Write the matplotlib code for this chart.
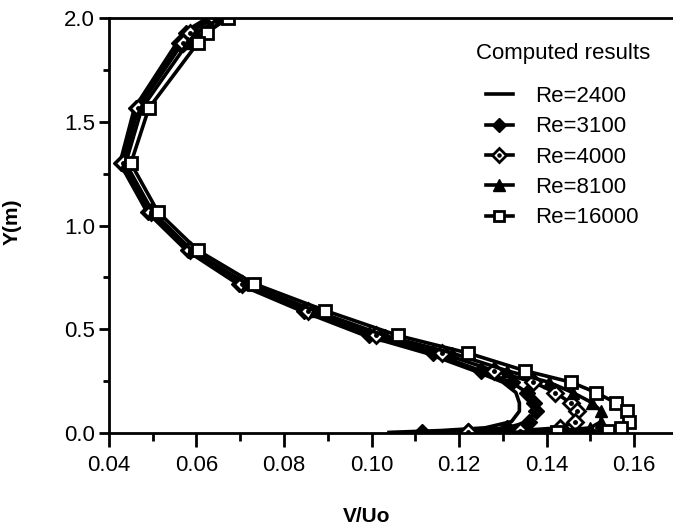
import numpy as np
import matplotlib
matplotlib.use("Agg")
import matplotlib.pyplot as plt
from matplotlib.ticker import MultipleLocator

plt.rcParams['font.family'] = ['Liberation Sans', 'DejaVu Sans']

# y positions of the computed points (m)
y_m = [2.0, 1.93, 1.88, 1.565, 1.30, 1.065, 0.88, 0.72, 0.59, 0.47,
       0.385, 0.30, 0.245, 0.195, 0.145, 0.105, 0.055, 0.025, 0.012, 0.003]

# V/Uo for each Reynolds number
re2400 = [0.0625, 0.0570, 0.0555, 0.0458, 0.0425, 0.0487, 0.0577, 0.0693, 0.0838, 0.0985,
          0.1125, 0.1235, 0.1300, 0.1330, 0.1338, 0.1338, 0.1320, 0.1260, 0.1160, 0.1040]
re3100 = [0.0632, 0.0575, 0.0560, 0.0462, 0.0428, 0.0490, 0.0580, 0.0698, 0.0845, 0.0995,
          0.1140, 0.1250, 0.1320, 0.1355, 0.1372, 0.1375, 0.1360, 0.1310, 0.1220, 0.1115]
re4000 = [0.0640, 0.0585, 0.0568, 0.0467, 0.0432, 0.0495, 0.0585, 0.0705, 0.0855, 0.1010,
          0.1160, 0.1280, 0.1370, 0.1420, 0.1455, 0.1470, 0.1465, 0.1430, 0.1340, 0.1220]
re8100 = [0.0655, 0.0600, 0.0580, 0.0475, 0.0438, 0.0500, 0.0590, 0.0715, 0.0870, 0.1030,
          0.1185, 0.1310, 0.1405, 0.1460, 0.1505, 0.1525, 0.1525, 0.1500, 0.1440, 0.1320]
re16000 = [0.0672, 0.0624, 0.0603, 0.0491, 0.0450, 0.0512, 0.0603, 0.0731, 0.0894, 0.1060,
           0.1221, 0.1351, 0.1456, 0.1513, 0.1559, 0.1584, 0.1589, 0.1570, 0.1540, 0.1424]

labels = ['Re=2400', 'Re=3100', 'Re=4000', 'Re=8100', 'Re=16000']

fig = plt.figure(figsize=(6.73, 5.28), dpi=100)
ax = fig.add_axes([109/673, 95/528, 564/673, 415/528])

lw = 2.6
ms = 8
h1, = ax.plot(re2400, y_m, color='black', lw=lw)
h2, = ax.plot(re3100, y_m, color='black', lw=lw, marker='D', ms=ms, mfc='black', mec='black')
h3, = ax.plot(re4000, y_m, color='black', lw=lw, marker='D', ms=ms, mfc='white', mec='black', mew=2)
h3b, = ax.plot(re4000, y_m, ls='none', marker='o', ms=2.5, color='black')
h4, = ax.plot(re8100, y_m, color='black', lw=lw, marker='^', ms=ms + 1, mfc='black', mec='black')
h5, = ax.plot(re16000, y_m, color='black', lw=lw, marker='s', ms=ms, mfc='white', mec='black', mew=2)

ax.set_xlim(0.04, 0.04 + 564 / 4375)
ax.set_ylim(0.0, 2.0)
ax.set_xticks([0.04, 0.06, 0.08, 0.10, 0.12, 0.14, 0.16])
ax.set_xticklabels(['0.04', '0.06', '0.08', '0.10', '0.12', '0.14', '0.16'])
ax.set_yticks([0.0, 0.5, 1.0, 1.5, 2.0])
ax.set_yticklabels(['0.0', '0.5', '1.0', '1.5', '2.0'])
ax.xaxis.set_minor_locator(MultipleLocator(0.01))
ax.yaxis.set_minor_locator(MultipleLocator(0.25))

for s in ['left', 'bottom', 'top']:
    ax.spines[s].set_linewidth(2)
ax.spines['right'].set_visible(False)

ax.tick_params(axis='x', which='major', length=10, width=2, pad=6, labelsize=16)
ax.tick_params(axis='x', which='minor', length=6, width=2)
ax.tick_params(axis='y', which='major', length=7, width=2, pad=3, labelsize=16)
ax.tick_params(axis='y', which='minor', length=4, width=2)

ax.set_xlabel('V/Uo', fontsize=15, fontweight='bold')
ax.set_ylabel('Y(m)', fontsize=15, fontweight='bold')
ax.xaxis.set_label_coords(0.456, -0.178)
ax.yaxis.set_label_coords(-0.155, 0.508)

fig.text(563/673, 1 - 53/528, 'Computed results', fontsize=16,
         ha='center', va='center')
leg = ax.legend([h1, h2, (h3, h3b), h4, h5], labels,
                loc='upper left', bbox_to_anchor=(466/673, 1 - 66/528),
                bbox_transform=fig.transFigure, frameon=False,
                fontsize=16, handlelength=1.2, handletextpad=1.0,
                labelspacing=0.42, numpoints=1, markerscale=0.9)

fig.savefig('out.png', dpi=100)
